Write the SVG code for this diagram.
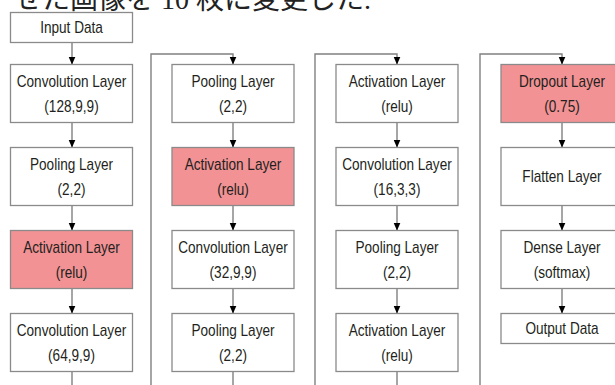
<svg xmlns="http://www.w3.org/2000/svg" width="615" height="385" viewBox="0 0 615 385">
<defs>
<style>
.box{fill:#fff;stroke:#8a8a8a;stroke-width:1.3}
.hl{fill:#f29294}
.t{font-family:"Liberation Sans",Arial,sans-serif;font-size:16px;fill:#231f20;text-anchor:middle}
.ln{fill:none;stroke:#808080;stroke-width:1.4}
.jp{font-family:"Liberation Serif","Noto Sans CJK JP",serif;font-size:28px;fill:#222}
</style>
<marker id="ah" markerWidth="8" markerHeight="8" refX="8" refY="4" orient="auto" markerUnits="userSpaceOnUse"><path d="M0,0.5 L8,4 L0,7.5 z" fill="#000"/></marker>
</defs>
<rect width="615" height="385" fill="#fff"/>
<text class="jp" x="14" y="9">せた画像を 10 枚に変更した.</text>

<g id="connectors">
<path class="ln" d="M72,42.5 V64.5" marker-end="url(#ah)"/>
<path class="ln" d="M72,122.5 V147.5" marker-end="url(#ah)"/>
<path class="ln" d="M72,205.5 V230.5" marker-end="url(#ah)"/>
<path class="ln" d="M72,288.5 V313.5" marker-end="url(#ah)"/>
<path class="ln" d="M72,371.5 V386"/>
<path class="ln" d="M151,386 V54 H233 V64.5" marker-end="url(#ah)"/>
<path class="ln" d="M233,122.5 V147.5" marker-end="url(#ah)"/>
<path class="ln" d="M233,205.5 V230.5" marker-end="url(#ah)"/>
<path class="ln" d="M233,288.5 V313.5" marker-end="url(#ah)"/>
<path class="ln" d="M233,371.5 V386"/>
<path class="ln" d="M315,386 V54 H397 V64.5" marker-end="url(#ah)"/>
<path class="ln" d="M397,122.5 V147.5" marker-end="url(#ah)"/>
<path class="ln" d="M397,205.5 V230.5" marker-end="url(#ah)"/>
<path class="ln" d="M397,288.5 V313.5" marker-end="url(#ah)"/>
<path class="ln" d="M397,371.5 V386"/>
<path class="ln" d="M480,386 V54 H562 V64.5" marker-end="url(#ah)"/>
<path class="ln" d="M562,122.5 V147.5" marker-end="url(#ah)"/>
<path class="ln" d="M562,205.5 V230.5" marker-end="url(#ah)"/>
<path class="ln" d="M562,288.5 V313.5" marker-end="url(#ah)"/>
</g>

<g id="input"><rect class="box" x="10.5" y="12.5" width="122" height="30"/><g transform="translate(71.5,0) scale(0.85,1)"><text class="t" x="0" y="33">Input Data</text></g></g>

<g id="c1r1"><rect class="box" x="10.5" y="64.5" width="122" height="58"/><g transform="translate(71.5,0) scale(0.85,1)"><text class="t" x="0" y="87">Convolution Layer</text><text class="t" x="0" y="112">(128,9,9)</text></g></g>
<g id="c1r2"><rect class="box" x="10.5" y="147.5" width="122" height="58"/><g transform="translate(71.5,0) scale(0.85,1)"><text class="t" x="0" y="170">Pooling Layer</text><text class="t" x="0" y="195">(2,2)</text></g></g>
<g id="c1r3"><rect class="box hl" x="10.5" y="230.5" width="122" height="58"/><g transform="translate(71.5,0) scale(0.85,1)"><text class="t" x="0" y="253">Activation Layer</text><text class="t" x="0" y="278">(relu)</text></g></g>
<g id="c1r4"><rect class="box" x="10.5" y="313.5" width="122" height="58"/><g transform="translate(71.5,0) scale(0.85,1)"><text class="t" x="0" y="336">Convolution Layer</text><text class="t" x="0" y="361">(64,9,9)</text></g></g>

<g id="c2r1"><rect class="box" x="172" y="64.5" width="122" height="58"/><g transform="translate(233,0) scale(0.85,1)"><text class="t" x="0" y="87">Pooling Layer</text><text class="t" x="0" y="112">(2,2)</text></g></g>
<g id="c2r2"><rect class="box hl" x="172" y="147.5" width="122" height="58"/><g transform="translate(233,0) scale(0.85,1)"><text class="t" x="0" y="170">Activation Layer</text><text class="t" x="0" y="195">(relu)</text></g></g>
<g id="c2r3"><rect class="box" x="172" y="230.5" width="122" height="58"/><g transform="translate(233,0) scale(0.85,1)"><text class="t" x="0" y="253">Convolution Layer</text><text class="t" x="0" y="278">(32,9,9)</text></g></g>
<g id="c2r4"><rect class="box" x="172" y="313.5" width="122" height="58"/><g transform="translate(233,0) scale(0.85,1)"><text class="t" x="0" y="336">Pooling Layer</text><text class="t" x="0" y="361">(2,2)</text></g></g>

<g id="c3r1"><rect class="box" x="336" y="64.5" width="122" height="58"/><g transform="translate(397,0) scale(0.85,1)"><text class="t" x="0" y="87">Activation Layer</text><text class="t" x="0" y="112">(relu)</text></g></g>
<g id="c3r2"><rect class="box" x="336" y="147.5" width="122" height="58"/><g transform="translate(397,0) scale(0.85,1)"><text class="t" x="0" y="170">Convolution Layer</text><text class="t" x="0" y="195">(16,3,3)</text></g></g>
<g id="c3r3"><rect class="box" x="336" y="230.5" width="122" height="58"/><g transform="translate(397,0) scale(0.85,1)"><text class="t" x="0" y="253">Pooling Layer</text><text class="t" x="0" y="278">(2,2)</text></g></g>
<g id="c3r4"><rect class="box" x="336" y="313.5" width="122" height="58"/><g transform="translate(397,0) scale(0.85,1)"><text class="t" x="0" y="336">Activation Layer</text><text class="t" x="0" y="361">(relu)</text></g></g>

<g id="c4r1"><rect class="box hl" x="501" y="64.5" width="122" height="58"/><g transform="translate(562,0) scale(0.85,1)"><text class="t" x="0" y="87">Dropout Layer</text><text class="t" x="0" y="112">(0.75)</text></g></g>
<g id="c4r2"><rect class="box" x="501" y="147.5" width="122" height="58"/><g transform="translate(562,0) scale(0.85,1)"><text class="t" x="0" y="182">Flatten Layer</text></g></g>
<g id="c4r3"><rect class="box" x="501" y="230.5" width="122" height="58"/><g transform="translate(562,0) scale(0.85,1)"><text class="t" x="0" y="253">Dense Layer</text><text class="t" x="0" y="278">(softmax)</text></g></g>
<g id="c4r4"><rect class="box" x="501" y="313.5" width="122" height="30"/><g transform="translate(562,0) scale(0.85,1)"><text class="t" x="0" y="334">Output Data</text></g></g>
</svg>
